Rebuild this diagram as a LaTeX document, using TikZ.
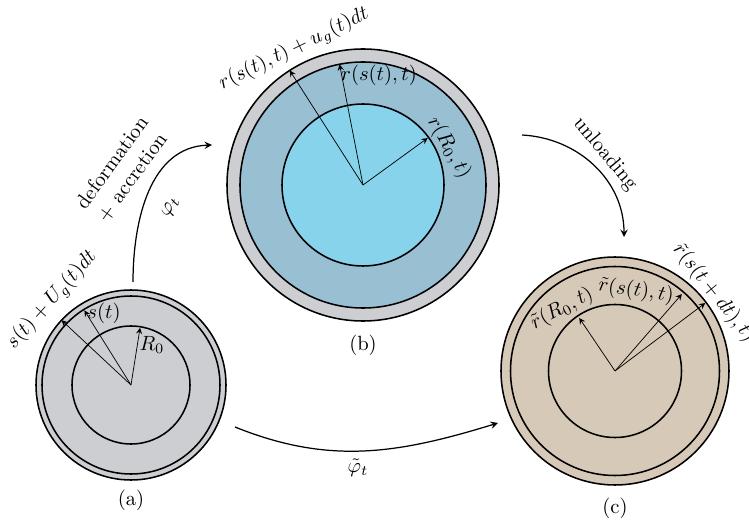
\documentclass[tikz,border=0pt]{standalone}
\usepackage{amsfonts, amsmath, amssymb}
\usepackage{tikz}

\definecolor{shellgray}{RGB}{205,206,210}
\definecolor{ringblue}{RGB}{152,191,210}
\definecolor{coreblue}{RGB}{135,211,236}
\definecolor{bodytan}{RGB}{215,201,184}

\tikzset{
  rim/.style={draw=black, line width=0.75pt},
  radius arrow/.style={-stealth, line width=0.35pt},
  map arrow/.style={-stealth, line width=0.6pt},
}

\begin{document}
\begin{tikzpicture}[x=0.485pt, y=0.485pt]
\useasboundingbox (0,0) rectangle (749,520);

% centres of the three bodies
\coordinate (ca) at (131,135);
\coordinate (cb) at (363,335);
\coordinate (cc) at (615,149);

% (a) reference configuration
\filldraw[rim, fill=shellgray] (ca) circle (95);
\draw[rim] (ca) circle (89);
\draw[rim] (ca) circle (59);
\draw[radius arrow] (ca) -- ++(81:58);
\draw[radius arrow] (ca) -- ++(122:88);
\draw[radius arrow] (ca) -- ++(137:95);
\node (aR) at (152,175) {$R_0$};
\node (aS) at (104,207) {$s(t)$};
\node[rotate=48] (aU) at (52,220) {$s(t)+U_g(t)dt$};
\node (la) at (131,20) {(a)};

% (b) current configuration
\filldraw[rim, fill=shellgray] (cb) circle (136);
\filldraw[rim, fill=ringblue] (cb) circle (123);
\filldraw[rim, fill=coreblue] (cb) circle (81);
\draw[radius arrow] (cb) -- ++(36:80);
\draw[radius arrow] (cb) -- ++(101:123);
\draw[radius arrow] (cb) -- ++(122.6:136);
\node[rotate=26] (bU) at (294,471) {$r(s(t),t)+u_g(t)dt$};
\node (bS) at (379,445) {$r(s(t),t)$};
\node[rotate=-60] (bR) at (449,372) {$r(R_0,t)$};
\node (lb) at (363,175) {(b)};

% (c) unloaded configuration
\filldraw[rim, fill=bodytan] (cc) circle (114);
\draw[rim] (cc) circle (104.5);
\draw[rim] (cc) circle (66.5);
\draw[radius arrow] (cc) -- ++(124:64);
\draw[radius arrow] (cc) -- ++(49:102);
\draw[radius arrow] (cc) -- ++(37:113);
\node[rotate=28] (cR) at (562,211) {$\tilde r(R_0,t)$};
\node[rotate=-8] (cS) at (636,229) {$\tilde r(s(t),t)$};
\node[rotate=-51] (cU) at (714,227) {$\tilde r(s(t+dt),t)$};
\node (lc) at (615,12) {(c)};

% maps between configurations
\coordinate (phiA) at (133,238);
\coordinate (phiB) at (212,375);
\coordinate (unB) at (522,385);
\coordinate (unC) at (624,283);
\coordinate (tphA) at (235,93);
\coordinate (tphC) at (498,97);

\draw[map arrow] (phiA) to[out=90, in=182] (phiB);
\node[rotate=60] (phi) at (171,313) {$\varphi_t$};
\node[rotate=54, align=center] (defacc) at (122,350) {deformation\\+ accretion};

\draw[map arrow] (unB) to[out=-3, in=90] (unC);
\node[rotate=-50] (unl) at (605,366) {unloading};

\draw[map arrow] (tphA) to[out=-22, in=197] (tphC);
\node (tphi) at (358,52) {$\tilde\varphi_t$};
\end{tikzpicture}
\end{document}
